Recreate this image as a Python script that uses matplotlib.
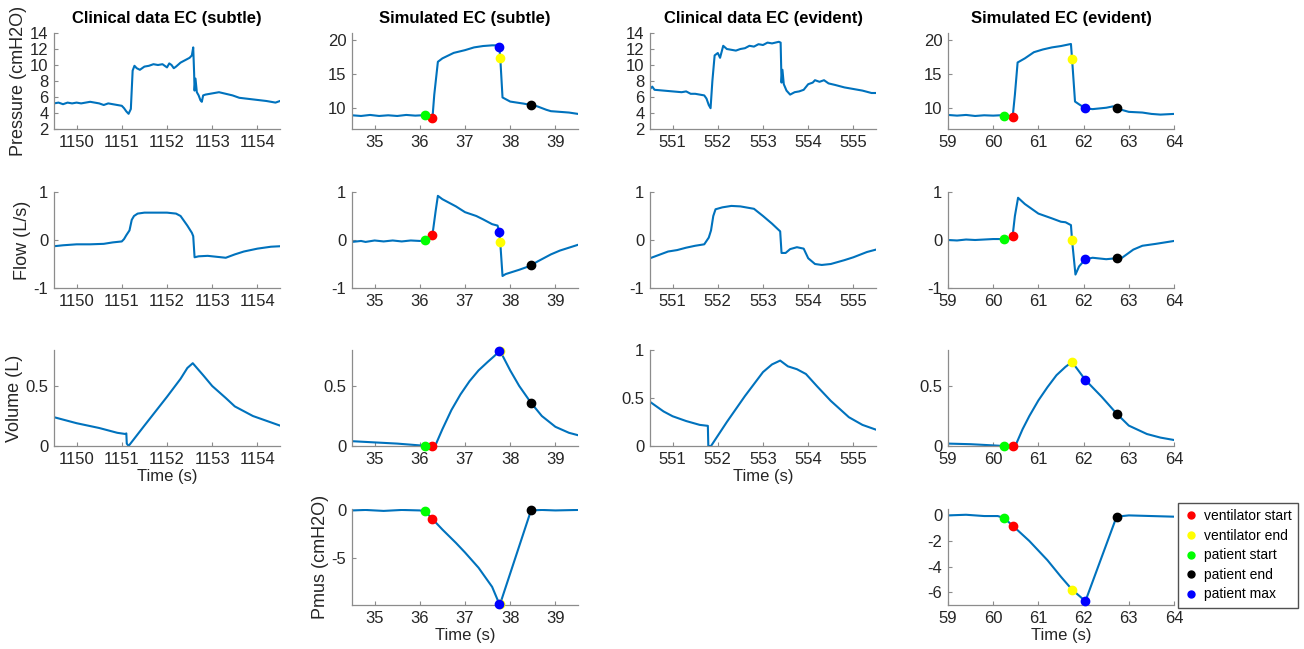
import matplotlib
matplotlib.use("Agg")
import matplotlib.pyplot as plt
from matplotlib.lines import Line2D
from matplotlib.ticker import FormatStrFormatter

plt.rcParams['font.family'] = ['Liberation Sans', 'DejaVu Sans']
plt.rcParams['axes.unicode_minus'] = False

# ---- clinical data, subtle EC ----
cs_pressure = [(1149.5, 5.2), (1149.6, 5.3), (1149.7, 5.1), (1149.8, 5.3), (1149.9, 5.2), (1150.0, 5.3),
               (1150.1, 5.2), (1150.2, 5.3), (1150.3, 5.4), (1150.4, 5.3), (1150.5, 5.2), (1150.6, 5.0),
               (1150.7, 5.2), (1150.8, 5.1), (1150.9, 5.0), (1151.0, 4.9), (1151.05, 4.6), (1151.1, 4.2),
               (1151.15, 3.9), (1151.2, 4.5), (1151.24, 9.3), (1151.28, 9.9), (1151.33, 9.6), (1151.4, 9.4),
               (1151.5, 9.8), (1151.6, 9.9), (1151.7, 10.1), (1151.8, 10.0), (1151.9, 10.1), (1151.95, 9.9),
               (1152.0, 9.7), (1152.05, 10.2), (1152.1, 10.0), (1152.15, 9.6), (1152.2, 9.8), (1152.3, 10.3),
               (1152.4, 10.6), (1152.5, 10.9), (1152.55, 11.2), (1152.58, 12.2), (1152.6, 9.0), (1152.61, 6.8),
               (1152.63, 8.3), (1152.66, 6.6), (1152.7, 6.2), (1152.74, 5.6), (1152.77, 5.4), (1152.8, 6.2),
               (1152.85, 6.3), (1152.95, 6.4), (1153.05, 6.5), (1153.15, 6.6), (1153.3, 6.4), (1153.45, 6.2),
               (1153.6, 5.9), (1153.75, 5.8), (1153.9, 5.7), (1154.05, 5.6), (1154.2, 5.5), (1154.3, 5.4),
               (1154.4, 5.3), (1154.5, 5.5)]
cs_flow = [(1149.5, -0.13), (1149.7, -0.11), (1150.0, -0.09), (1150.3, -0.09), (1150.6, -0.08), (1150.8, -0.05),
           (1151.0, -0.03), (1151.05, 0.02), (1151.1, 0.1), (1151.17, 0.2), (1151.22, 0.42), (1151.27, 0.5),
           (1151.35, 0.55), (1151.5, 0.57), (1151.8, 0.57), (1152.0, 0.57), (1152.2, 0.55), (1152.3, 0.5),
           (1152.45, 0.3), (1152.55, 0.15), (1152.58, 0.08), (1152.61, -0.36), (1152.7, -0.34), (1152.9, -0.33),
           (1153.1, -0.35), (1153.3, -0.37), (1153.5, -0.3), (1153.7, -0.24), (1154.0, -0.18), (1154.3, -0.14),
           (1154.5, -0.13)]
cs_volume = [(1149.5, 0.24), (1150.0, 0.19), (1150.5, 0.15), (1150.9, 0.11), (1151.08, 0.10), (1151.1, 0.105),
             (1151.11, 0.02), (1151.15, 0.0), (1151.5, 0.17), (1152.0, 0.41), (1152.3, 0.56), (1152.45, 0.65),
             (1152.57, 0.69), (1152.8, 0.59), (1153.0, 0.5), (1153.3, 0.4), (1153.5, 0.33), (1153.9, 0.25),
             (1154.2, 0.21), (1154.5, 0.17)]

# ---- clinical data, evident EC ----
ce_pressure = [(550.5, 7.0), (550.55, 7.3), (550.6, 6.9), (550.8, 6.8), (551.0, 6.7), (551.2, 6.6), (551.3, 6.7),
               (551.4, 6.4), (551.5, 6.4), (551.7, 6.2), (551.75, 5.8), (551.8, 5.0), (551.84, 4.6), (551.88, 8.0),
               (551.93, 11.2), (552.0, 11.5), (552.05, 10.9), (552.12, 12.4), (552.2, 12.0), (552.3, 11.9),
               (552.4, 11.8), (552.5, 12.0), (552.6, 12.1), (552.7, 12.4), (552.8, 12.3), (552.9, 12.6),
               (553.0, 12.5), (553.1, 12.8), (553.2, 12.7), (553.35, 12.9), (553.39, 12.8), (553.41, 7.8),
               (553.43, 9.4), (553.46, 7.6), (553.52, 6.8), (553.6, 6.3), (553.7, 6.6), (553.8, 6.7), (553.9, 6.9),
               (554.0, 7.6), (554.1, 7.8), (554.15, 8.1), (554.25, 7.9), (554.35, 8.1), (554.45, 7.7), (554.6, 7.5),
               (554.8, 7.2), (555.0, 7.0), (555.2, 6.8), (555.4, 6.5), (555.5, 6.5)]
ce_flow = [(550.5, -0.38), (550.7, -0.31), (550.9, -0.24), (551.1, -0.21), (551.3, -0.16), (551.5, -0.12),
           (551.7, -0.09), (551.8, 0.05), (551.85, 0.2), (551.9, 0.5), (551.95, 0.64), (552.1, 0.68), (552.3, 0.71),
           (552.5, 0.7), (552.8, 0.65), (553.0, 0.5), (553.2, 0.34), (553.38, 0.18), (553.41, -0.27),
           (553.5, -0.27), (553.6, -0.19), (553.75, -0.15), (553.9, -0.18), (554.0, -0.38), (554.15, -0.5),
           (554.3, -0.52), (554.5, -0.5), (554.8, -0.42), (555.0, -0.36), (555.3, -0.25), (555.5, -0.2)]
ce_volume = [(550.5, 0.46), (550.8, 0.36), (551.0, 0.31), (551.3, 0.26), (551.6, 0.22), (551.78, 0.21),
             (551.79, 0.0), (551.85, 0.0), (552.2, 0.25), (552.6, 0.52), (553.0, 0.77), (553.2, 0.85),
             (553.38, 0.89), (553.55, 0.83), (553.75, 0.8), (553.95, 0.75), (554.2, 0.62), (554.5, 0.47),
             (554.9, 0.3), (555.2, 0.22), (555.5, 0.17)]

# ---- simulated, subtle EC ----
ss_pressure = [(34.5, 9.0), (34.7, 8.9), (34.9, 9.05), (35.1, 8.9), (35.3, 9.0), (35.5, 8.9), (35.7, 9.05),
               (35.9, 8.95), (36.05, 9.0), (36.12, 9.0), (36.2, 8.9), (36.28, 8.6), (36.32, 12.0), (36.4, 16.8),
               (36.5, 17.3), (36.75, 18.1), (37.0, 18.5), (37.2, 18.9), (37.4, 19.1), (37.6, 19.2), (37.74, 19.2),
               (37.76, 18.9), (37.78, 17.4), (37.83, 11.6), (38.0, 11.0), (38.3, 10.7), (38.46, 10.5),
               (38.6, 10.3), (38.8, 9.8), (38.9, 9.6), (39.1, 9.5), (39.3, 9.4), (39.5, 9.2)]
ss_flow = [(34.5, -0.04), (34.7, -0.02), (34.8, -0.04), (35.0, -0.01), (35.2, -0.03), (35.4, -0.01),
           (35.6, -0.03), (35.8, -0.01), (36.0, -0.02), (36.12, -0.01), (36.2, 0.03), (36.28, 0.11), (36.35, 0.6),
           (36.4, 0.92), (36.5, 0.85), (36.8, 0.7), (37.0, 0.58), (37.25, 0.5), (37.4, 0.43), (37.6, 0.33),
           (37.72, 0.3), (37.76, 0.17), (37.78, -0.05), (37.83, -0.75), (37.9, -0.71), (38.2, -0.62),
           (38.35, -0.57), (38.46, -0.53), (38.6, -0.45), (38.9, -0.3), (39.1, -0.22), (39.3, -0.16), (39.5, -0.1)]
ss_volume = [(34.5, 0.04), (35.0, 0.03), (35.5, 0.02), (36.0, 0.005), (36.12, 0.0), (36.28, 0.0), (36.35, 0.01),
             (36.5, 0.14), (36.7, 0.3), (36.9, 0.43), (37.1, 0.54), (37.3, 0.63), (37.5, 0.7), (37.65, 0.75),
             (37.76, 0.79), (37.78, 0.79), (38.0, 0.63), (38.2, 0.5), (38.46, 0.36), (38.7, 0.25), (39.0, 0.16),
             (39.3, 0.11), (39.5, 0.09)]
ss_pmus = [(34.5, 0.0), (34.8, 0.05), (35.2, -0.05), (35.6, 0.05), (36.0, 0.0), (36.12, -0.1), (36.28, -0.9),
           (36.5, -2.0), (36.8, -3.4), (37.0, -4.4), (37.3, -6.0), (37.6, -8.0), (37.76, -9.8), (37.78, -9.75),
           (38.46, 0.0), (38.7, 0.05), (39.0, 0.0), (39.5, 0.05)]

# ---- simulated, evident EC ----
se_pressure = [(59.0, 9.05), (59.2, 8.95), (59.4, 9.05), (59.6, 8.9), (59.8, 9.0), (60.0, 8.95), (60.15, 9.0),
               (60.24, 8.9), (60.35, 8.9), (60.43, 8.7), (60.48, 12.0), (60.54, 16.7), (60.7, 17.3), (60.9, 18.2),
               (61.1, 18.6), (61.3, 18.9), (61.5, 19.1), (61.72, 19.4), (61.745, 17.2), (61.81, 11.0),
               (61.9, 10.6), (62.04, 10.0), (62.2, 9.9), (62.5, 10.1), (62.65, 10.3), (62.73, 10.0), (63.0, 9.5),
               (63.3, 9.4), (63.5, 9.2), (63.7, 9.1), (64.0, 9.2)]
se_flow = [(59.0, 0.0), (59.2, -0.01), (59.4, 0.01), (59.6, 0.0), (59.8, 0.01), (60.0, 0.02), (60.24, 0.02),
           (60.35, 0.03), (60.43, 0.09), (60.48, 0.5), (60.55, 0.88), (60.7, 0.75), (61.0, 0.55), (61.3, 0.45),
           (61.5, 0.38), (61.6, 0.37), (61.72, 0.31), (61.745, -0.01), (61.82, -0.72), (61.9, -0.55),
           (62.04, -0.4), (62.2, -0.37), (62.5, -0.4), (62.73, -0.38), (62.85, -0.37), (63.1, -0.2),
           (63.3, -0.12), (63.6, -0.08), (63.8, -0.05), (64.0, -0.02)]
se_volume = [(59.0, 0.02), (59.5, 0.015), (60.0, 0.005), (60.24, 0.0), (60.43, 0.0), (60.5, 0.01), (60.65, 0.14),
             (60.8, 0.25), (61.0, 0.38), (61.2, 0.49), (61.4, 0.59), (61.6, 0.66), (61.745, 0.70), (62.04, 0.55),
             (62.4, 0.41), (62.73, 0.27), (63.0, 0.17), (63.4, 0.1), (63.7, 0.07), (64.0, 0.05)]
se_pmus = [(59.0, 0.0), (59.4, 0.05), (59.8, -0.05), (60.1, -0.05), (60.24, -0.2), (60.43, -0.8), (60.8, -2.0),
           (61.2, -3.5), (61.5, -4.8), (61.745, -5.8), (62.04, -6.7), (62.73, -0.1), (63.0, 0.0), (63.5, -0.05),
           (64.0, -0.1)]

# event markers: ventilator start, ventilator end, patient start, patient end, patient max
event_names = ['ventilator start', 'ventilator end', 'patient start', 'patient end', 'patient max']
event_colors = ['#ff0000', '#ffff00', '#00ff00', '#000000', '#0000ff']
ev_sub_t = [36.28, 37.78, 36.12, 38.46, 37.76]
ev_sub_p = [8.6, 17.4, 9.0, 10.5, 18.9]
ev_sub_f = [0.11, -0.05, -0.01, -0.53, 0.17]
ev_sub_v = [0.0, 0.79, 0.0, 0.36, 0.79]
ev_sub_m = [-0.9, -9.75, -0.1, 0.0, -9.8]
ev_evi_t = [60.43, 61.745, 60.24, 62.73, 62.04]
ev_evi_p = [8.7, 17.2, 8.9, 10.0, 10.0]
ev_evi_f = [0.09, -0.01, 0.02, -0.38, -0.40]
ev_evi_v = [0.0, 0.70, 0.0, 0.27, 0.55]
ev_evi_m = [-0.8, -5.8, -0.2, -0.1, -6.7]

titles = ['Clinical data EC (subtle)', 'Simulated EC (subtle)', 'Clinical data EC (evident)', 'Simulated EC (evident)']

W, H = 1304, 649
col_left = [54, 352, 650, 948]
row_top = [33, 192, 350, 509]
aw, ah = 226, 96
blue = '#0072BD'
axcol = '#8c8c8c'
txtcol = '#262626'

fig = plt.figure(figsize=(W / 100, H / 100), dpi=100)


def make_ax(r, c):
    ax = fig.add_axes([col_left[c] / W, 1 - (row_top[r] + ah) / H, aw / W, ah / H])
    for s in ['top', 'right']:
        ax.spines[s].set_visible(False)
    for s in ['left', 'bottom']:
        ax.spines[s].set_color(axcol)
        ax.spines[s].set_linewidth(0.9)
    ax.tick_params(direction='in', length=3, width=0.8, color=axcol, labelcolor=txtcol,
                   labelsize=12, pad=4)
    ax.yaxis.set_major_formatter(FormatStrFormatter('%g'))
    return ax


def draw(ax, pts, xlim, ylim, yticks, xticks, ev_t=None, ev_v=None):
    t, v = zip(*pts)
    ax.plot(t, v, color=blue, lw=1.5, zorder=2)
    if ev_t is not None:
        for tt, vv, cc in zip(ev_t, ev_v, event_colors):
            ax.plot(tt, vv, 'o', color=cc, ms=6, mec=cc, zorder=3, clip_on=False)
    ax.set_xlim(*xlim)
    ax.set_ylim(*ylim)
    ax.set_yticks(yticks)
    ax.set_xticks(xticks)


def ylab(ax, text):
    ax.set_ylabel(text, fontsize=13, color=txtcol, labelpad=2)


def xlab(ax):
    ax.set_xlabel('Time (s)', fontsize=12, color=txtcol, labelpad=2)


xl_cs, xt_cs = (1149.5, 1154.5), [1150, 1151, 1152, 1153, 1154]
xl_ss, xt_ss = (34.5, 39.5), [35, 36, 37, 38, 39]
xl_ce, xt_ce = (550.5, 555.5), [551, 552, 553, 554, 555]
xl_se, xt_se = (59, 64), [59, 60, 61, 62, 63, 64]

# row 1: pressure
ax = make_ax(0, 0)
draw(ax, cs_pressure, xl_cs, (2, 14), [2, 4, 6, 8, 10, 12, 14], xt_cs)
ylab(ax, 'Pressure (cmH2O)')
ax.set_title(titles[0], fontsize=12, fontweight='bold', pad=7)
ax = make_ax(0, 1)
draw(ax, ss_pressure, xl_ss, (7, 21), [10, 15, 20], xt_ss, ev_sub_t, ev_sub_p)
ax.set_title(titles[1], fontsize=12, fontweight='bold', pad=7)
ax = make_ax(0, 2)
draw(ax, ce_pressure, xl_ce, (2, 14), [2, 4, 6, 8, 10, 12, 14], xt_ce)
ax.set_title(titles[2], fontsize=12, fontweight='bold', pad=7)
ax = make_ax(0, 3)
draw(ax, se_pressure, xl_se, (7, 21), [10, 15, 20], xt_se, ev_evi_t, ev_evi_p)
ax.set_title(titles[3], fontsize=12, fontweight='bold', pad=7)

# row 2: flow
ax = make_ax(1, 0)
draw(ax, cs_flow, xl_cs, (-1, 1), [-1, 0, 1], xt_cs)
ylab(ax, 'Flow (L/s)')
ax = make_ax(1, 1)
draw(ax, ss_flow, xl_ss, (-1, 1), [-1, 0, 1], xt_ss, ev_sub_t, ev_sub_f)
ax = make_ax(1, 2)
draw(ax, ce_flow, xl_ce, (-1, 1), [-1, 0, 1], xt_ce)
ax = make_ax(1, 3)
draw(ax, se_flow, xl_se, (-1, 1), [-1, 0, 1], xt_se, ev_evi_t, ev_evi_f)

# row 3: volume
ax = make_ax(2, 0)
draw(ax, cs_volume, xl_cs, (0, 0.8), [0, 0.5], xt_cs)
ylab(ax, 'Volume (L)')
xlab(ax)
ax = make_ax(2, 1)
draw(ax, ss_volume, xl_ss, (0, 0.8), [0, 0.5], xt_ss, ev_sub_t, ev_sub_v)
ax = make_ax(2, 2)
draw(ax, ce_volume, xl_ce, (0, 1), [0, 0.5, 1], xt_ce)
xlab(ax)
ax = make_ax(2, 3)
draw(ax, se_volume, xl_se, (0, 0.8), [0, 0.5], xt_se, ev_evi_t, ev_evi_v)

# row 4: Pmus
ax = make_ax(3, 1)
draw(ax, ss_pmus, xl_ss, (-9.9, 0.15), [-5, 0], xt_ss, ev_sub_t, ev_sub_m)
ylab(ax, 'Pmus (cmH2O)')
xlab(ax)
ax = make_ax(3, 3)
draw(ax, se_pmus, xl_se, (-7.0, 0.5), [-6, -4, -2, 0], xt_se, ev_evi_t, ev_evi_m)
xlab(ax)

handles = [Line2D([], [], marker='o', ls='none', color=cc, mec=cc, ms=5, label=nm)
           for nm, cc in zip(event_names, event_colors)]
fig.legend(handles=handles, loc='upper left', bbox_to_anchor=(1178 / W, 1 - 503 / H),
           frameon=True, fancybox=False, edgecolor='#262626', fontsize=10, handletextpad=0.4,
           borderpad=0.45, labelspacing=0.4, handlelength=1.0, borderaxespad=0)

fig.savefig('out.png', dpi=100)
